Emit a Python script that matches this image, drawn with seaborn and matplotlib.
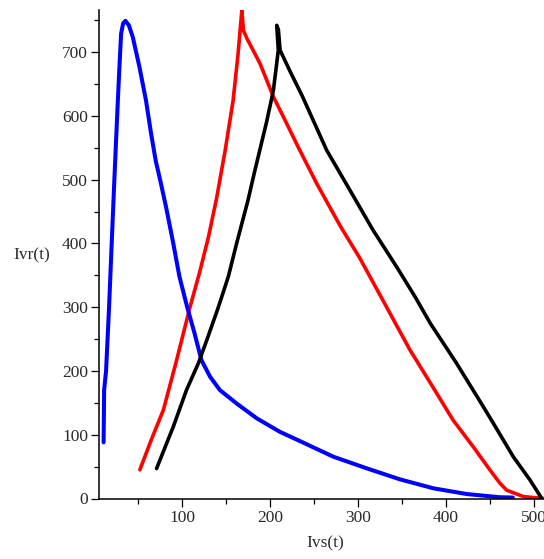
import matplotlib
matplotlib.use("Agg")
import matplotlib.pyplot as plt
from matplotlib.ticker import MultipleLocator
import pandas as pd
import seaborn as sns

# Trajectories in the (Ivs, Ivr) phase plane
blue_ivs = [10.8, 11.4, 13.6, 17, 20, 23, 25, 27, 28.8, 30.7, 33, 35.6, 39.5,
            43.9, 51.5, 59, 64.8, 70, 75, 81.8, 90, 97, 106, 114, 122, 131.8,
            143, 162, 184.9, 211, 234, 272, 309.9, 347.7, 385.6, 423.5, 461, 476]
blue_ivr = [88, 170, 200, 300, 400, 499, 562, 624, 677, 729, 745, 749, 742,
            724, 677, 624, 572, 530, 500, 457, 400, 348, 299, 260, 217, 191,
            170, 149, 125.7, 104.7, 90, 65.5, 47.3, 30, 16, 7, 2, 1.5]

red_ivs = [52, 65, 78.8, 94, 109, 120, 130, 139.4, 149, 158, 163.5, 168,
           169.7, 173.5, 188.6, 203.8, 218.9, 232, 253, 279.5, 302, 327, 359,
           385, 408, 431, 450, 461.4, 469, 488, 510.6]
red_ivr = [45, 92, 139, 218, 300, 355, 410, 472, 546, 624, 695, 766,
           734, 722, 682, 630, 588, 551, 494, 428, 377, 314, 233,
           175, 123, 81, 44.7, 23.8, 13, 3, 0]

black_ivs = [71, 90, 105, 118.5, 128, 141, 152.6, 162, 175, 182, 189, 196,
             203.8, 209.4, 207.6, 209.5, 211.4, 222.7, 237, 264.4, 291, 317,
             344, 365, 382, 412, 442.4, 453.8, 476.5, 495.5, 508.7]
black_ivr = [47, 112.5, 170, 212, 248, 299, 348, 400, 468, 510, 550, 590,
             640, 703, 742, 735, 703, 670, 630, 546, 483, 421,
             363, 316, 275, 212, 144, 118, 65.5, 29, 0.3]

series = {"red": (red_ivs, red_ivr),
          "blue": (blue_ivs, blue_ivr),
          "black": (black_ivs, black_ivr)}

frames = []
for name, (xs, ys) in series.items():
    frames.append(pd.DataFrame({"Ivs": xs, "Ivr": ys, "curve": name}))
df = pd.concat(frames, ignore_index=True)

sns.set_theme(style="white")
plt.rcParams["font.family"] = ["Liberation Serif", "DejaVu Serif"]

fig = plt.figure(figsize=(5.44, 5.59), dpi=100)
ax = fig.add_axes([98.5 / 544, (559 - 498.5) / 559, (544 - 98.5) / 544, (498.5 - 10) / 559])

palette = {"red": "#ff0000", "blue": "#0000ff", "black": "#000000"}
for name in ["red", "blue", "black"]:
    sub = df[df["curve"] == name]
    sns.lineplot(data=sub, x="Ivs", y="Ivr", sort=False, estimator=None,
                 color=palette[name], linewidth=2.9 if name == "blue" else 2.6,
                 solid_joinstyle="round", solid_capstyle="round", ax=ax,
                 legend=False)

ax.set_xlim(5, 511.4)
ax.set_ylim(0, 766)

for side in ["top", "right"]:
    ax.spines[side].set_visible(False)
for side in ["left", "bottom"]:
    ax.spines[side].set_color("black")
    ax.spines[side].set_linewidth(1.1)

ax.xaxis.set_major_locator(MultipleLocator(100))
ax.xaxis.set_minor_locator(MultipleLocator(50))
ax.yaxis.set_major_locator(MultipleLocator(100))
ax.yaxis.set_minor_locator(MultipleLocator(50))
ax.tick_params(which="major", direction="out", length=5.5, width=0.9,
               color="black", labelsize=12.5, labelcolor="#2a2a2a", pad=2)
ax.tick_params(which="minor", direction="out", length=3.5, width=0.9,
               color="black")
ax.tick_params(axis="x", which="major", pad=3)
ax.tick_params(left=True, bottom=True, which="both")

ax.set_xlabel("")
ax.set_ylabel("")
ax.grid(False)

fig.text(32 / 544, 1 - 255 / 559, "Ivr(t)", ha="center", va="center",
         fontsize=12.5, color="#2a2a2a")
fig.text(325 / 544, 1 - 543 / 559, "Ivs(t)", ha="center", va="center",
         fontsize=12.5, color="#2a2a2a")

fig.savefig("out.png", dpi=100)
